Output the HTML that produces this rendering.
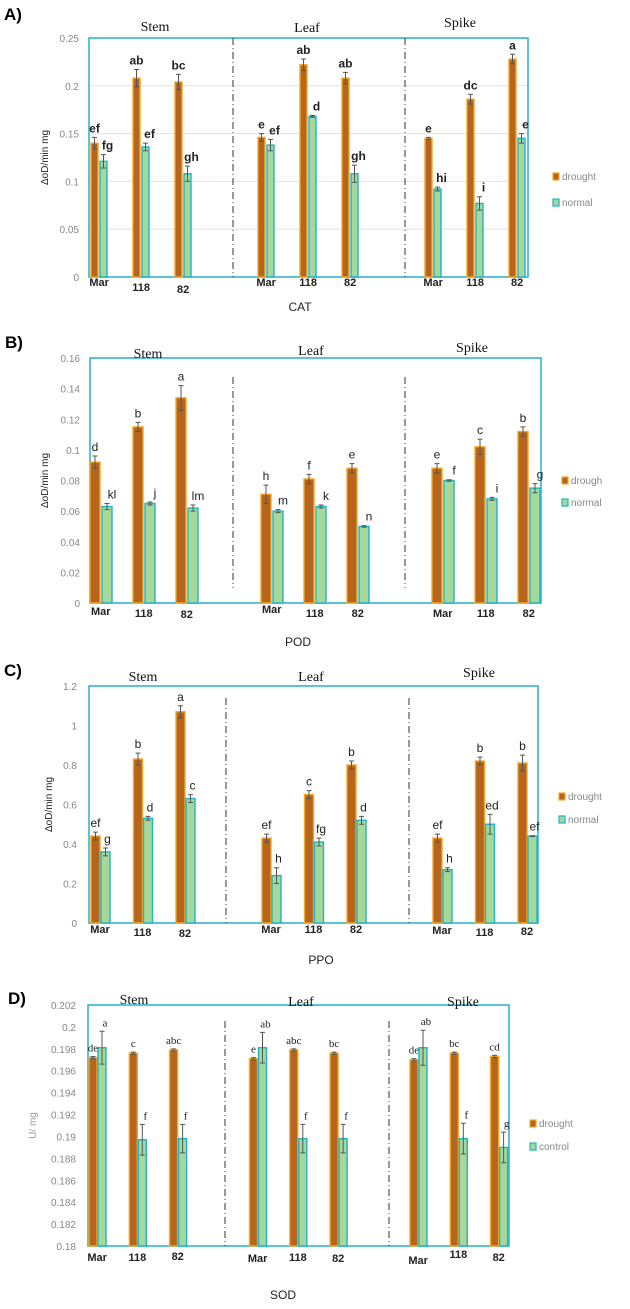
<!DOCTYPE html>
<html><head><meta charset="utf-8"><style>
html,body{margin:0;padding:0;background:#fff;}
svg{display:block;font-family:"Liberation Sans",sans-serif;}
</style></head><body>
<svg id="fig" width="630" height="1309" viewBox="0 0 630 1309"></svg>
<script>
// ---------- data ----------
const groups = ["Mar","118","82","Mar","118","82","Mar","118","82"];
const tissues = ["Stem","Leaf","Spike"];
// Panel A - CAT
const catDrought = [0.140,0.208,0.204,0.146,0.222,0.208,0.145,0.186,0.228];
const catNormal  = [0.121,0.136,0.108,0.138,0.168,0.108,0.092,0.077,0.145];
const catDErr = [0.006,0.009,0.008,0.004,0.006,0.006,0.001,0.005,0.005];
const catNErr = [0.007,0.004,0.008,0.006,0.001,0.009,0.002,0.007,0.005];
const catDLab = ["ef","ab","bc","e","ab","ab","e","dc","a"];
const catNLab = ["fg","ef","gh","ef","d","gh","hi","i","e"];
const catTicks = [0,0.05,0.1,0.15,0.2,0.25];
const catTickLabels = ["0","0.05","0.1","0.15","0.2","0.25"];
// Panel B - POD
const podDrought = [0.092,0.115,0.134,0.071,0.081,0.088,0.088,0.102,0.112];
const podNormal  = [0.063,0.065,0.062,0.060,0.063,0.050,0.080,0.068,0.075];
const podDErr = [0.004,0.003,0.008,0.006,0.003,0.003,0.003,0.005,0.003];
const podNErr = [0.002,0.001,0.002,0.001,0.001,0.0005,0.0005,0.001,0.003];
const podDLab = ["d","b","a","h","f","e","e","c","b"];
const podNLab = ["kl","j","lm","m","k","n","f","i","g"];
const podTicks = [0,0.02,0.04,0.06,0.08,0.1,0.12,0.14,0.16];
const podTickLabels = ["0","0.02","0.04","0.06","0.08","0.1","0.12","0.14","0.16"];
// Panel C - PPO
const ppoDrought = [0.44,0.83,1.07,0.43,0.65,0.80,0.43,0.82,0.81];
const ppoNormal  = [0.36,0.53,0.63,0.24,0.41,0.52,0.27,0.50,0.44];
const ppoDErr = [0.02,0.03,0.03,0.02,0.02,0.02,0.02,0.02,0.04];
const ppoNErr = [0.02,0.01,0.02,0.04,0.02,0.02,0.01,0.05,0.002];
const ppoDLab = ["ef","b","a","ef","c","b","ef","b","b"];
const ppoNLab = ["g","d","c","h","fg","d","h","ed","ef"];
const ppoTicks = [0,0.2,0.4,0.6,0.8,1,1.2];
const ppoTickLabels = ["0","0.2","0.4","0.6","0.8","1","1.2"];
// Panel D - SOD
const sodDrought = [0.1972,0.1976,0.1979,0.1971,0.1979,0.1976,0.1970,0.1976,0.1973];
const sodControl = [0.1981,0.1897,0.1898,0.1981,0.1898,0.1898,0.1981,0.1898,0.1890];
const sodDErr = [0.0001,0.0001,0.0001,0.0001,0.0001,0.0001,0.0001,0.0001,0.0001];
const sodCErr = [0.0015,0.0014,0.0013,0.0014,0.0013,0.0013,0.0016,0.0014,0.0014];
const sodDLab = ["de","c","abc","e","abc","bc","de","bc","cd"];
const sodCLab = ["a","f","f","ab","f","f","ab","f","g"];
const sodTicks = [0.18,0.182,0.184,0.186,0.188,0.19,0.192,0.194,0.196,0.198,0.2,0.202];
const sodTickLabels = ["0.18","0.182","0.184","0.186","0.188","0.19","0.192","0.194","0.196","0.198","0.2","0.202"];

// ---------- drawing ----------
const NS="http://www.w3.org/2000/svg";
const svg=document.getElementById('fig');
function mk(tag,attrs,parent,text){
  const e=document.createElementNS(NS,tag);
  for(const k in attrs) e.setAttribute(k,attrs[k]);
  if(text!==undefined) e.textContent=text;
  (parent||svg).appendChild(e);
  return e;
}
function panel(cfg){
  const g=mk('g',{});
  
  
  const y=v=>cfg.y0-(v-cfg.vmin)/(cfg.vmax-cfg.vmin)*(cfg.y0-cfg.y1);
  // panel letter
  const pl=mk('text',{x:cfg.letterX,y:cfg.letterY,'font-size':17,'font-weight':'bold',fill:'#000'},g,cfg.letter);
  
  
  // gridlines
  if(cfg.grid){
    cfg.ticks.forEach(t=>{
      const gl=mk('line',{x1:cfg.x0,x2:cfg.x1,y1:y(t),y2:y(t),stroke:'#e2e2e2','stroke-width':1},g);
      
      
    });
  }
  // ticks labels
  cfg.ticks.forEach((t,i)=>{
    const tl=mk('text',{x:cfg.x0-cfg.tickGap,y:y(t)+4,'font-size':10,fill:'#888','text-anchor':'end'},g,cfg.tickLabels[i]);
    
    
  });
  // box
  const box=mk('rect',{x:cfg.x0,y:cfg.y1,width:cfg.x1-cfg.x0,height:cfg.y0-cfg.y1,fill:'none',stroke:'#33b5cf','stroke-width':1.6},g);
  
  
  // dividers
  cfg.dividers.forEach(dx=>{
    const dl=mk('line',{x1:dx,x2:dx,y1:cfg.divTop,y2:cfg.divBot,stroke:'#333','stroke-width':1,'stroke-dasharray':'7,3,1,3'},g);
    
    
  });
  // tissue titles
  tissues.forEach((t,i)=>{
    const tt=mk('text',{x:cfg.titleX[i],y:cfg.titleY[i],'font-size':14,'text-anchor':'middle','font-family':'"Liberation Serif",serif',fill:'#111'},g,t);
    
    
  });
  // bars
  groups.forEach((gr,i)=>{
    const left=cfg.bx0+(i%3)*cfg.step+Math.floor(i/3)*cfg.tstep;
    const series=[[cfg.d,cfg.dErr,cfg.dLab,'#b5651d','#f5a623','drought'],[cfg.n,cfg.nErr,cfg.nLab,'#a6d89a','#1eb3c9',cfg.nName]];
    series.forEach((s,si)=>{
      const v=s[0][i], bx=left+si*cfg.off, bw=cfg.bw;
      const top=y(v);
      const r=mk('rect',{x:bx,y:top,width:bw,height:cfg.y0-top,fill:s[3],stroke:s[4],'stroke-width':1.4},g);
      
      
      const cx=bx+bw/2, e=s[1][i];
      const eb=mk('path',{d:`M${cx},${y(v+e)}V${y(v-e)}M${cx-2.5},${y(v+e)}H${cx+2.5}M${cx-2.5},${y(v-e)}H${cx+2.5}`,stroke:'#555','stroke-width':1,fill:'none'},g);
      
      
      const lt=mk('text',{x:cx+(si?cfg.nLabDx:0),y:y(v+e)-5,'font-size':cfg.labSize,'font-weight':cfg.labWeight,'text-anchor':'middle','font-family':cfg.labFont,fill:'#222'},g,s[2][i]);
      
      
    });
    const xl=mk('text',{x:left+cfg.off*0.9,y:cfg.xLabY+(cfg.xLabDy?cfg.xLabDy[i]:0),'font-size':11,'font-weight':'bold','text-anchor':'middle',fill:'#222'},g,gr);
    
    
  });
  // y axis title
  const yt=mk('text',{x:0,y:0,'font-size':10,fill:cfg.yTitleColor,'text-anchor':'middle',transform:`translate(${cfg.yTitleX},${(cfg.y0+cfg.y1)/2}) rotate(-90)`},g,cfg.yTitle);
  
  
  // x axis title
  const xt=mk('text',{x:cfg.xTitleX,y:cfg.xTitleY,'font-size':12,fill:'#222','text-anchor':'middle'},g,cfg.xTitle);
  
  
  // legend
  [['#b5651d','#f5a623',cfg.legD],['#a6d89a','#1eb3c9',cfg.nName]].forEach((L,li)=>{
    const ly=cfg.legY[li];
    const sw=mk('rect',{x:cfg.legX,y:ly-7,width:6,height:7,fill:L[0],stroke:L[1],'stroke-width':1.2},g);
    
    
    const lt=mk('text',{x:cfg.legX+9,y:ly,'font-size':10,fill:'#888'},g,L[2]);
    
    
  });
}
panel({name:'cat',letter:'A)',letterX:4,letterY:20,x0:89,x1:528,y0:277,y1:38,vmin:0,vmax:0.25,grid:true,tickGap:10,
  ticks:catTicks,tickLabels:catTickLabels,dividers:[233,405],divTop:38,divBot:277,
  titleX:[155,307,460],titleY:[31,32,27],bx0:91,step:42,tstep:167,bw:7,off:9,
  d:catDrought,n:catNormal,dErr:catDErr,nErr:catNErr,dLab:catDLab,nLab:catNLab,nName:'normal',legD:'drought',
  labSize:12,labWeight:'bold',labFont:'"Liberation Sans",sans-serif',nLabDx:4,
  xLabY:289,xLabDy:[-3,2,4,-3,-3,-3,-3,-3,-3],yTitle:'ΔoD/min mg',yTitleColor:'#222',yTitleX:48,
  xTitle:'CAT',xTitleX:300,xTitleY:311,legX:553,legY:180,legY:[180,206]});
panel({name:'pod',letter:'B)',letterX:5,letterY:348,x0:90,x1:541,y0:603,y1:358,vmin:0,vmax:0.16,grid:false,tickGap:10,
  ticks:podTicks,tickLabels:podTickLabels,dividers:[233,405],divTop:377,divBot:588,
  titleX:[148,311,472],titleY:[358,355,352],bx0:90,step:43,tstep:171,bw:10,off:12,
  d:podDrought,n:podNormal,dErr:podDErr,nErr:podNErr,dLab:podDLab,nLab:podNLab,nName:'normal',legD:'drough',
  labSize:12,labWeight:'normal',labFont:'"Liberation Sans",sans-serif',nLabDx:5,
  xLabY:617,xLabDy:[-2,0,1,-4,0,0,0,0,0],yTitle:'ΔoD/min mg',yTitleColor:'#222',yTitleX:48,
  xTitle:'POD',xTitleX:298,xTitleY:646,legX:562,legY:[484,506]});
panel({name:'ppo',letter:'C)',letterX:4,letterY:676,x0:89,x1:538,y0:923,y1:686,vmin:0,vmax:1.2,grid:false,tickGap:12,
  ticks:ppoTicks,tickLabels:ppoTickLabels,dividers:[226,409],divTop:698,divBot:923,
  titleX:[143,311,479],titleY:[681,681,677],bx0:91,step:42.5,tstep:171,bw:9,off:10,
  d:ppoDrought,n:ppoNormal,dErr:ppoDErr,nErr:ppoNErr,dLab:ppoDLab,nLab:ppoNLab,nName:'normal',legD:'drought',
  labSize:12,labWeight:'normal',labFont:'"Liberation Sans",sans-serif',nLabDx:2,
  xLabY:936,xLabDy:[-3,0,1,-3,-3,-3,-2,0,-1],yTitle:'ΔoD/min mg',yTitleColor:'#222',yTitleX:52,
  xTitle:'PPO',xTitleX:321,xTitleY:964,legX:559,legY:[800,823]});
panel({name:'sod',letter:'D)',letterX:8,letterY:1004,x0:88,x1:509,y0:1246,y1:1005,vmin:0.18,vmax:0.202,grid:false,tickGap:12,
  ticks:sodTicks,tickLabels:sodTickLabels,dividers:[225,389],divTop:1021,divBot:1246,
  titleX:[134,301,463],titleY:[1004,1006,1006],bx0:89,step:40.3,tstep:160.5,bw:8,off:9,
  d:sodDrought,n:sodControl,dErr:sodDErr,nErr:sodCErr,dLab:sodDLab,nLab:sodCLab,nName:'control',legD:'drought',
  labSize:11,labWeight:'normal',labFont:'"Liberation Serif",serif',nLabDx:3,
  xLabY:1261,xLabDy:[0,0,-1,1,0,1,3,-3,0],yTitle:'U/   mg',yTitleColor:'#999',yTitleX:36,
  xTitle:'SOD',xTitleX:283,xTitleY:1299,legX:530,legY:[1127,1150]});
</script>
</body></html>
